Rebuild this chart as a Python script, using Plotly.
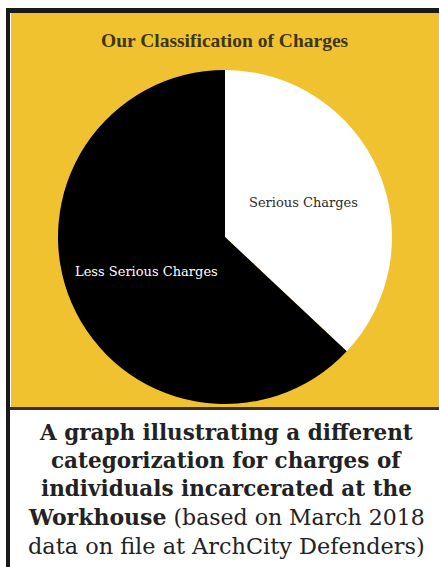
import math
import plotly.graph_objects as go

categories = ["Serious Charges", "Less Serious Charges"]
values = [37, 63]
slice_colors = ["#FFFFFF", "#000000"]
label_colors = ["#2a2a2a", "#FFFFFF"]
title_text = "Our Classification of Charges"
caption_lines = [
    "<b>A graph illustrating a different</b>",
    "<b>categorization for charges of</b>",
    "<b>individuals incarcerated at the</b>",
    "<b>Workhouse</b> (based on March 2018",
    "data on file at ArchCity Defenders)",
]

W, H = 439, 567
YELLOW = "#F0C230"

fig = go.Figure()
fig.add_trace(go.Pie(
    labels=categories, values=values, sort=False, direction="clockwise", rotation=0,
    marker=dict(colors=slice_colors, line=dict(width=0)),
    textinfo="none", hoverinfo="label+percent", showlegend=False,
    domain=dict(x=[58 / W, 392 / W], y=[1 - 404 / H, 1 - 70 / H]),
))


def px(x):
    return x / W


def py(y):
    return 1 - y / H


shapes = [
    dict(type="rect", xref="paper", yref="paper", x0=px(11), x1=1.0, y0=py(407), y1=py(13),
         fillcolor=YELLOW, line=dict(width=0), layer="below"),
    dict(type="rect", xref="paper", yref="paper", x0=px(6), x1=1.0, y0=py(13), y1=py(8),
         fillcolor="#1a1a1a", line=dict(width=0)),
    dict(type="rect", xref="paper", yref="paper", x0=px(6), x1=px(10), y0=0, y1=py(8),
         fillcolor="#1a1a1a", line=dict(width=0)),
    dict(type="rect", xref="paper", yref="paper", x0=px(10), x1=1.0, y0=py(410), y1=py(407),
         fillcolor="#3a3320", line=dict(width=0)),
]

common = dict(xref="paper", yref="paper", showarrow=False, xanchor="center", yanchor="middle")
annotations = [
    dict(x=px(225), y=py(40), text=f"<b>{title_text}</b>",
         font=dict(family="Liberation Serif", size=19.5, color="#3d3615"), **common),
]
cx, cy, r = 225, 237, 86
start = 0.0
total = sum(values)
for cat, v, col in zip(categories, values, label_colors):
    mid = (start + v / 2) / total * 2 * math.pi
    lx = cx + r * math.sin(mid)
    ly = cy - r * math.cos(mid)
    annotations.append(dict(x=px(lx), y=py(ly), text=cat,
                            font=dict(family="DejaVu Serif", size=13, color=col), **common))
    start += v

line_y = [432, 460, 488, 517, 546]
line_sizes = [21.5, 21.5, 21.5, 22, 22.4]
for t, yy, fs in zip(caption_lines, line_y, line_sizes):
    annotations.append(dict(x=px(226), y=py(yy), text=t,
                            font=dict(family="DejaVu Serif", size=fs, color="#222222"),
                            **common))

fig.update_layout(
    width=W, height=H, margin=dict(l=0, r=0, t=0, b=0),
    paper_bgcolor="#FFFFFF", plot_bgcolor="#FFFFFF",
    shapes=shapes, annotations=annotations,
)
fig.write_html("out.html", config={"displayModeBar": False},
               post_script="document.body.style.margin='0';")
